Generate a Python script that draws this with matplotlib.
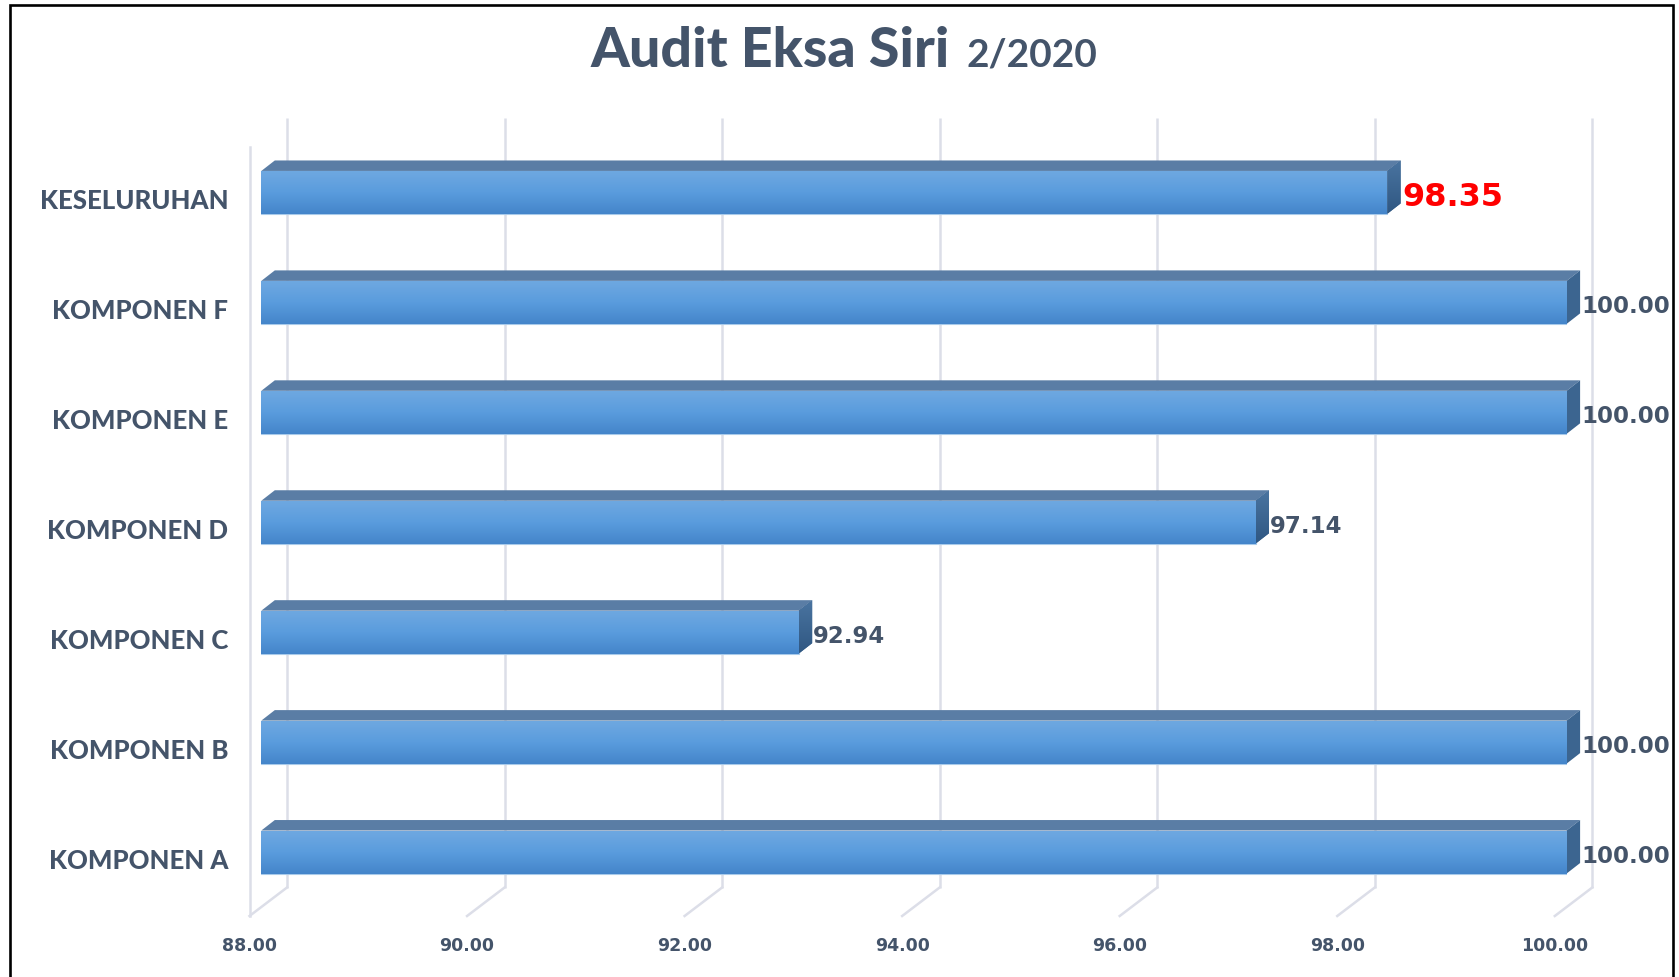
import numpy as np
import matplotlib
matplotlib.use("Agg")
import matplotlib.pyplot as plt
from matplotlib.patches import Polygon, Rectangle
from matplotlib.colors import LinearSegmentedColormap

# data
categories = ['KOMPONEN A', 'KOMPONEN B', 'KOMPONEN C', 'KOMPONEN D',
              'KOMPONEN E', 'KOMPONEN F', 'KESELURUHAN']
scores = [100.00, 100.00, 92.94, 97.14, 100.00, 100.00, 98.35]
x_ticks = [88, 90, 92, 94, 96, 98, 100]
x_min, x_max = 88, 100

# colours
TEXT = '#44546A'
GRID = '#DCDEE8'
TOP_FACE = '#5A7DA5'
front_cmap = LinearSegmentedColormap.from_list('front', ['#6EA8E1', '#5A9CDD', '#4485CA'])
side_cmap = LinearSegmentedColormap.from_list('side', ['#4A74A0', '#2F5782'])

W, H = 1679, 977
fig = plt.figure(figsize=(W / 100, H / 100), dpi=100)
ax = fig.add_axes([261.3 / W, 70 / H, 1305.3 / W, 769.5 / H])
ax.set_xlim(x_min, x_max)
ax.set_ylim(-0.5, len(categories) - 0.5)
ax.axis('off')

# pixel -> data unit helpers (oblique 3D depth is fixed in pixels)
ux = (x_max - x_min) / (1305.3)
uy = len(categories) / 769.5


def px(dx, dy):
    return dx * ux, dy * uy


bdx, bdy = px(25.7, 19.5)    # back wall offset
fdx, fdy = px(-11.8, -9.0)   # front floor edge offset
dx, dy = px(13.5, 10.5)      # bar depth
ylo, yhi = -0.5, len(categories) - 0.5

# walls / floor grid
for t in x_ticks:
    ax.plot([t + bdx, t + bdx], [ylo + bdy, yhi + bdy], color=GRID, lw=1.8,
            clip_on=False, zorder=1, solid_capstyle='butt')
    ax.plot([t + bdx, t + fdx], [ylo + bdy, ylo + fdy], color=GRID, lw=1.8,
            clip_on=False, zorder=1)
    ax.text(t + fdx, ylo + fdy - 30 * uy, f'{t:.2f}', ha='center', va='center',
            fontsize=12.5, fontweight='bold', color=TEXT, family='DejaVu Sans')
ax.plot([x_min + fdx, x_min + fdx], [ylo + fdy, yhi + fdy], color=GRID, lw=1.8,
        clip_on=False, zorder=1)

# bars
h = 43 * uy
ypos = np.arange(len(categories))
vals = np.array(scores)
bars = ax.barh(ypos, vals - x_min, left=x_min, height=h, color='#5A9CDD',
               edgecolor='#A8CAEA', linewidth=0.8, zorder=3)
grad = np.linspace(0, 1, 64).reshape(-1, 1)
for y, v, b in zip(ypos, vals, bars):
    top, bot = y + h / 2, y - h / 2
    im = ax.imshow(grad, cmap=front_cmap, extent=[x_min, v, bot, top],
                   origin='upper', aspect='auto', zorder=3.1,
                   interpolation='bilinear')
    im.set_clip_path(b)
    ax.add_patch(Polygon([(x_min, top), (v, top), (v + dx, top + dy),
                          (x_min + dx, top + dy)], closed=True,
                         fc=TOP_FACE, ec='none', zorder=2.9, clip_on=False))
    side = Polygon([(v, bot), (v, top), (v + dx, top + dy), (v + dx, bot + dy)],
                   closed=True, fc='#3C6590', ec='none', zorder=2.9, clip_on=False)
    ax.add_patch(side)
    sim = ax.imshow(grad, cmap=side_cmap, extent=[v, v + dx, bot, top + dy],
                    origin='upper', aspect='auto', zorder=3.0,
                    interpolation='bilinear')
    sim.set_clip_path(side)

# value labels
for y, v, cat in zip(ypos, vals, categories):
    if cat == 'KESELURUHAN':
        ax.text(v + dx + 2 * ux, y - 5 * uy, f'{v:.2f}', ha='left', va='center',
                fontsize=23, fontweight='bold', color='#FF0000',
                family='DejaVu Sans', zorder=5, clip_on=False)
    else:
        ax.text(v + dx + 1 * ux, y - 4 * uy, f'{v:.2f}', ha='left', va='center',
                fontsize=16.5, fontweight='bold', color=TEXT,
                family='DejaVu Sans', zorder=5, clip_on=False)

# category labels
for y, cat in zip(ypos, categories):
    ax.text(x_min - 33 * ux, y - 9 * uy, cat, ha='right', va='center',
            fontsize=18.5, fontweight='black', color=TEXT, family='Lato')

ax.set_xlim(x_min, x_max)
ax.set_ylim(ylo, yhi)

# title in two sizes
t1 = fig.text(591 / W, (H - 67) / H, 'Audit Eksa Siri', ha='left', va='baseline',
              fontsize=40, fontweight='black', color=TEXT, family='Lato')
fig.canvas.draw()
bb = t1.get_window_extent()
fig.text((bb.x1 + 16) / W, (H - 67) / H, '2/2020', ha='left', va='baseline',
         fontsize=28, fontweight='bold', color=TEXT, family='Lato')

# frame
fig.add_artist(Rectangle((10 / W, -0.1), (1673 - 10) / W, (H - 5) / H + 0.1,
                         transform=fig.transFigure, fill=False, ec='black', lw=1.9))

fig.savefig('out.png', dpi=100)
